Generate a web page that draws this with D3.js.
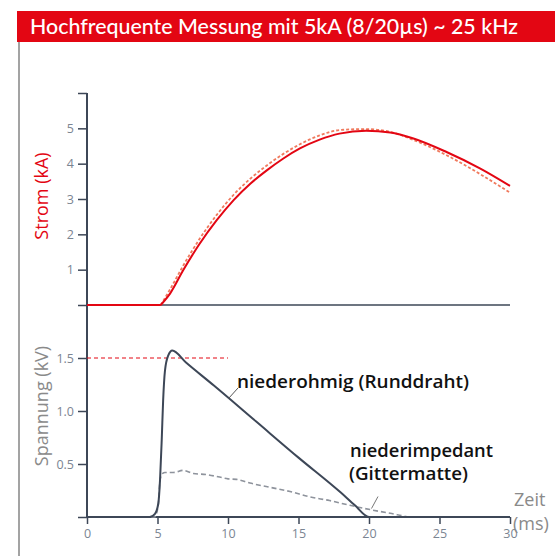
<!DOCTYPE html>
<html>
<head>
<meta charset="utf-8">
<script src="https://cdn.jsdelivr.net/npm/d3@7.9.0/dist/d3.min.js"></script>
<style>
  body { margin: 0; background: #fff; }
  svg { display: block; font-family: Lato, "Open Sans", sans-serif; }
</style>
</head>
<body>
<svg id="chart" width="555" height="556"></svg>
<script>
// ===== Daten =====
const stromZeit = [0, 5.23, 5.9, 6.83, 8.0, 9.2, 10.4, 11.6, 12.75, 13.9, 15.1, 16.5, 17.9, 19.8, 21.5, 23.1, 25.5, 27.9, 30];
const stromRunddraht = [0, 0, 0.33, 0.99, 1.74, 2.40, 2.97, 3.44, 3.81, 4.14, 4.43, 4.68, 4.85, 4.93, 4.88, 4.72, 4.33, 3.86, 3.37];
const stromGitter = [0, 0, 0.45, 1.12, 1.88, 2.55, 3.12, 3.58, 3.95, 4.27, 4.55, 4.80, 4.95, 4.98, 4.90, 4.68, 4.24, 3.70, 3.18];

const spannungZeitRund = [0, 4.45, 4.82, 5.06, 5.18, 5.3, 5.4, 5.53, 5.75, 6.05, 7, 9, 12, 15, 18, 19, 20, 30];
const spannungRund = [0, 0, 0.03, 0.13, 0.35, 0.73, 1.10, 1.38, 1.52, 1.57, 1.46, 1.24, 0.90, 0.56, 0.23, 0.11, 0, 0];

const spannungZeitGitter = [0, 4.8, 5.06, 5.18, 5.35, 5.53, 6.12, 6.83, 7.54, 8.49, 9.3, 10.0, 10.6, 11.56, 12.98, 14.4, 15.8, 17.2, 18.65, 20.07, 21.5, 23.1, 30];
const spannungGitter = [0, 0, 0.12, 0.35, 0.41, 0.42, 0.42, 0.44, 0.41, 0.40, 0.38, 0.36, 0.355, 0.32, 0.28, 0.24, 0.19, 0.155, 0.11, 0.07, 0.035, 0, 0];

const xTicks = [0, 5, 10, 15, 20, 25, 30];
const stromTicks = [0, 1, 2, 3, 4, 5, 6];
const spannungTicks = [0, 0.5, 1.0, 1.5];
const grenzwert = 1.5; // kV, rote Linie bis 10 ms

const titel = 'Hochfrequente Messung mit 5kA (8/20µs) ~ 25 kHz';

// ===== Skalen =====
const svg = d3.select('#chart');
const x = d3.scaleLinear().domain([0, 30]).range([87, 510]);
const yStrom = d3.scaleLinear().domain([0, 6]).range([305, 93]);
const ySpannung = d3.scaleLinear().domain([0, 2]).range([517, 305]);

const axisColor = '#3d4757';
const tickText = '#7b8592';
const sans = '"Open Sans", sans-serif';

// Titel
svg.append('rect').attr('x', 17).attr('y', 11).attr('width', 538).attr('height', 31).attr('fill', '#e30613');
svg.append('text').attr('x', 30).attr('y', 33.5).attr('fill', '#fff')
  .attr('textLength', 488).attr('lengthAdjust', 'spacingAndGlyphs')
  .style('font-size', '21px').style('font-weight', 500).text(titel);
svg.append('rect').attr('x', 18).attr('y', 42).attr('width', 2).attr('height', 514).attr('fill', '#a3a3a3');

// ===== Achsen =====
function styleAxis(g) {
  g.select('.domain').remove();
  g.selectAll('.tick line').attr('stroke', axisColor).attr('stroke-width', 1.5);
  g.selectAll('.tick text').attr('fill', tickText).style('font-size', '12.5px').style('font-family', sans);
}

svg.append('g').attr('transform', 'translate(87,0)')
  .call(d3.axisLeft(yStrom).tickValues(stromTicks).tickSize(9).tickPadding(4)
    .tickFormat(d => (d === 0 || d === 6) ? '' : d))
  .call(styleAxis);

svg.append('g').attr('transform', 'translate(87,0)')
  .call(d3.axisLeft(ySpannung).tickValues(spannungTicks).tickSize(9).tickPadding(4)
    .tickFormat(d => d === 0 ? '' : d3.format('.1f')(d)))
  .call(styleAxis);

svg.append('g').attr('transform', 'translate(0,517)')
  .call(d3.axisBottom(x).tickValues(xTicks).tickSize(7).tickPadding(5))
  .call(styleAxis);

// Achsenlinien
svg.append('line').attr('x1', 87).attr('x2', 87).attr('y1', yStrom(6)).attr('y2', ySpannung(0))
  .attr('stroke', axisColor).attr('stroke-width', 2);
svg.append('line').attr('x1', 87).attr('x2', 510).attr('y1', ySpannung(0)).attr('y2', ySpannung(0))
  .attr('stroke', axisColor).attr('stroke-width', 2);
svg.append('line').attr('x1', 87).attr('x2', 510).attr('y1', yStrom(0)).attr('y2', yStrom(0))
  .attr('stroke', axisColor).attr('stroke-width', 1.5);

// Achsentitel
svg.append('text').attr('transform', 'translate(48,196) rotate(-90)')
  .attr('text-anchor', 'middle').attr('fill', '#e30613').style('font-size', '18px')
  .style('font-family', sans).text('Strom (kA)');
svg.append('text').attr('transform', 'translate(48,406) rotate(-90)')
  .attr('text-anchor', 'middle').attr('fill', '#8a8a8a').style('font-size', '18px')
  .style('font-family', sans).text('Spannung (kV)');

svg.append('text').attr('x', 514).attr('y', 506).attr('fill', '#8a8a8a').style('font-size', '18px')
  .style('font-family', sans).text('Zeit');
svg.append('text').attr('x', 513).attr('y', 530).attr('fill', '#8a8a8a').style('font-size', '18px')
  .style('font-family', sans).text('(ms)');

// ===== Linien =====
const zip = (ts, vs) => ts.map((t, i) => ({ t, v: vs[i] }));

const lineStrom = d3.line().x(d => x(d.t)).y(d => yStrom(d.v)).curve(d3.curveMonotoneX);
const lineStromFlach = d3.line().x(d => x(d.t)).y(d => yStrom(d.v));
const lineSpannung = d3.line().x(d => x(d.t)).y(d => ySpannung(d.v)).curve(d3.curveMonotoneX);

// Grenzwert 1.5 kV
svg.append('line').attr('x1', x(0)).attr('x2', x(10)).attr('y1', ySpannung(grenzwert)).attr('y2', ySpannung(grenzwert))
  .attr('stroke', '#e30613').attr('stroke-width', 1).attr('stroke-dasharray', '4,3');

// Strom: flacher Teil gerade, Anstieg geglättet
function stromPfad(werte) {
  const pts = zip(stromZeit, werte);
  return lineStromFlach(pts.slice(0, 2)) + lineStrom(pts.slice(1));
}

svg.append('path').attr('d', stromPfad(stromGitter))
  .attr('fill', 'none').attr('stroke', '#f07a5e').attr('stroke-width', 1.8).attr('stroke-dasharray', '3,2');
svg.append('path').attr('d', stromPfad(stromRunddraht))
  .attr('fill', 'none').attr('stroke', '#e30613').attr('stroke-width', 2);

svg.append('path').datum(zip(spannungZeitGitter, spannungGitter)).attr('d', lineSpannung)
  .attr('fill', 'none').attr('stroke', '#8e939c').attr('stroke-width', 1.6).attr('stroke-dasharray', '5,3');
svg.append('path').datum(zip(spannungZeitRund, spannungRund)).attr('d', lineSpannung)
  .attr('fill', 'none').attr('stroke', '#3d4757').attr('stroke-width', 2);

// ===== Beschriftungen =====
const anno = svg.append('g').style('font-family', sans).style('font-weight', 600).style('font-size', '17.5px')
  .attr('fill', '#111');
svg.append('line').attr('x1', 228.5).attr('y1', 398.5).attr('x2', 238).attr('y2', 388)
  .attr('stroke', '#555').attr('stroke-width', 1);
anno.append('text').attr('x', 237).attr('y', 388)
  .attr('textLength', 232).attr('lengthAdjust', 'spacingAndGlyphs').text('niederohmig (Runddraht)');

svg.append('line').attr('x1', 371.5).attr('y1', 508.5).attr('x2', 378).attr('y2', 496.5)
  .attr('stroke', '#777').attr('stroke-width', 1);
anno.append('text').attr('x', 350).attr('y', 456.5)
  .attr('textLength', 143).attr('lengthAdjust', 'spacingAndGlyphs').text('niederimpedant');
anno.append('text').attr('x', 349).attr('y', 480)
  .attr('textLength', 119).attr('lengthAdjust', 'spacingAndGlyphs').text('(Gittermatte)');
</script>
</body>
</html>
